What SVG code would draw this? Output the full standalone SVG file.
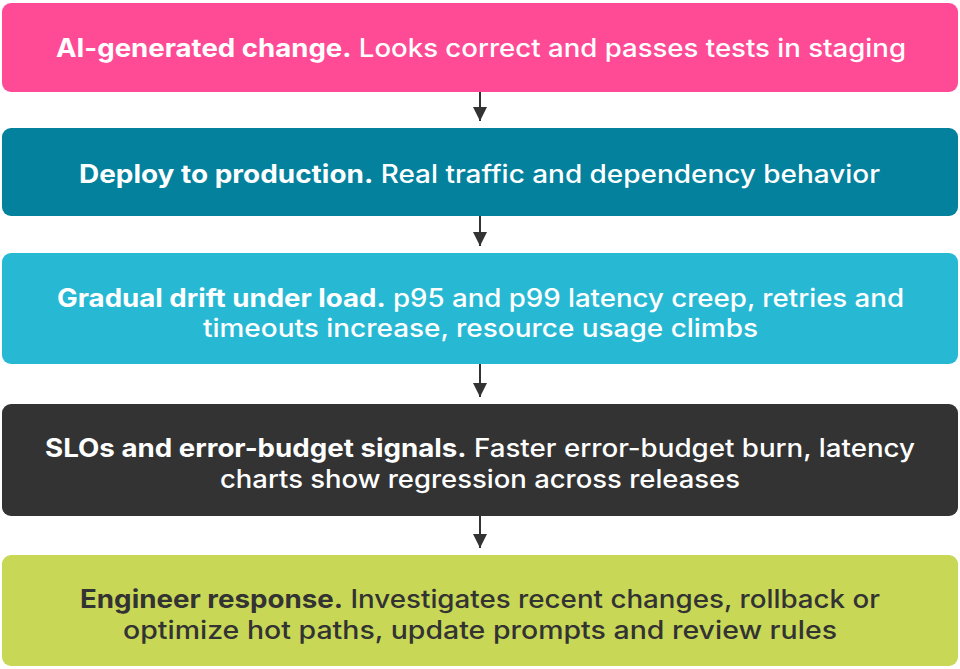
<svg xmlns="http://www.w3.org/2000/svg" width="960" height="669" viewBox="0 0 960 669">
<defs>
<style>
.t{font-family:Inter,"Open Sans","DejaVu Sans",sans-serif;font-size:25px;font-weight:500;text-anchor:middle}
.w{fill:#ffffff}
.d{fill:#333333}
.b{font-weight:700}
.conn{stroke:#333333;stroke-width:2;fill:none}
</style>
<marker id="ah" markerUnits="userSpaceOnUse" markerWidth="14" markerHeight="14" viewBox="0 0 14 14" refX="14" refY="7" orient="auto">
<path d="M0,0 L14,7 L0,14 z" fill="#333333"/>
</marker>
</defs>
<rect width="960" height="669" fill="#ffffff"/>
<g id="connectors">
<line class="conn" x1="480" y1="92" x2="480" y2="121" marker-end="url(#ah)"/>
<line class="conn" x1="480" y1="216" x2="480" y2="246" marker-end="url(#ah)"/>
<line class="conn" x1="480" y1="364" x2="480" y2="397" marker-end="url(#ah)"/>
<line class="conn" x1="480" y1="516" x2="480" y2="548" marker-end="url(#ah)"/>
</g>
<g id="node1">
<rect x="2" y="3" width="956" height="89" rx="9" fill="#FF4A96"/>
<text class="t w" x="481" y="57" textLength="850" lengthAdjust="spacingAndGlyphs"><tspan class="b">AI-generated change.</tspan> Looks correct and passes tests in staging</text>
</g>
<g id="node2">
<rect x="2" y="128" width="956" height="88" rx="9" fill="#03819D"/>
<text class="t w" x="479.5" y="183" textLength="801" lengthAdjust="spacingAndGlyphs"><tspan class="b">Deploy to production.</tspan> Real traffic and dependency behavior</text>
</g>
<g id="node3">
<rect x="2" y="253" width="956" height="111" rx="9" fill="#27B9D4"/>
<text class="t w" x="480.5" y="306.5" textLength="847" lengthAdjust="spacingAndGlyphs"><tspan class="b">Gradual drift under load.</tspan> p95 and p99 latency creep, retries and</text>
<text class="t w" x="480.5" y="337" textLength="555" lengthAdjust="spacingAndGlyphs">timeouts increase, resource usage climbs</text>
</g>
<g id="node4">
<rect x="2" y="404" width="956" height="112" rx="9" fill="#333333"/>
<text class="t w" x="480" y="457" textLength="870" lengthAdjust="spacingAndGlyphs"><tspan class="b">SLOs and error-budget signals.</tspan> Faster error-budget burn, latency</text>
<text class="t w" x="480" y="488" textLength="520" lengthAdjust="spacingAndGlyphs">charts show regression across releases</text>
</g>
<g id="node5">
<rect x="2" y="555" width="956" height="111" rx="9" fill="#C8D856"/>
<text class="t d" x="480" y="608" textLength="800" lengthAdjust="spacingAndGlyphs"><tspan class="b">Engineer response.</tspan> Investigates recent changes, rollback or</text>
<text class="t d" x="480" y="639" textLength="714" lengthAdjust="spacingAndGlyphs">optimize hot paths, update prompts and review rules</text>
</g>
</svg>
